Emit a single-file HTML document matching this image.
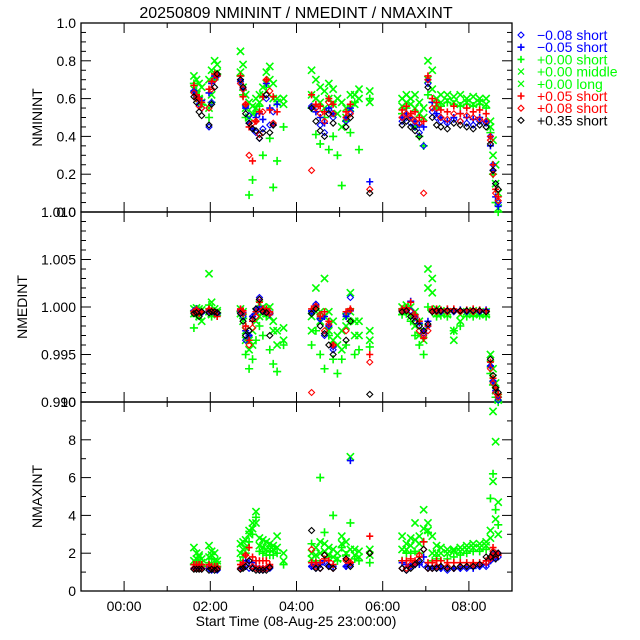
<!DOCTYPE html>
<html><head><meta charset="utf-8">
<style>
html,body{margin:0;padding:0;background:#fff;}
svg{display:block;font-family:"Liberation Sans",sans-serif;}
</style></head>
<body>
<svg id="chart" width="640" height="640" viewBox="0 0 640 640" xmlns="http://www.w3.org/2000/svg">
<rect width="640" height="640" fill="#fff"/>
<text x="296" y="18" font-size="16" text-anchor="middle">20250809 NMININT / NMEDINT / NMAXINT</text>
<g id="axes"></g>
<g id="marks"></g>
<g id="legend"></g>
<text x="296" y="626" font-size="14" text-anchor="middle">Start Time (08-Aug-25 23:00:00)</text>
</svg>
<script>
// time grid in hours since 00:00 (start 08-Aug-25 23:00 = -1h)
const times = [1.62,1.68,1.74,1.80, 1.97,2.03,2.10,2.16,
 2.70,2.76,2.82,2.90,2.98,3.06,3.14,3.22,3.30,3.38,3.46,3.55,3.70,
 4.35,4.45,4.55,4.65,4.75,4.85,4.95,5.05,5.15,5.25,5.35,5.45,5.70,
 6.45,6.55,6.65,6.75,6.85,6.95,7.05,7.15,
 7.25,7.35,7.50,7.65,7.80,7.95,8.10,8.25,8.40,
 8.50,8.56,8.62,8.68];
const xTickLabels = ["00:00","02:00","04:00","06:00","08:00"];
const xTickHours = [0,2,4,6,8];
const seriesNames = ["-0.08 short","-0.05 short","+0.00 short","+0.00 middle","+0.00 long","+0.05 short","+0.08 short","+0.35 short"];

// ---- NMININT ----
const minLong = [0.72,0.70,0.68,0.66, 0.70,0.75,0.80,0.78,
 0.85,0.78,0.62,0.58,0.56,0.60,0.62,0.66,0.74,0.77,0.68,0.60,0.60,
 0.75,0.70,0.66,0.64,0.68,0.65,0.60,0.58,0.55,0.62,0.62,0.65,0.64,
 0.60,0.62,0.60,0.62,0.58,0.55,0.80,0.75,
 0.60,0.62,0.62,0.61,0.62,0.60,0.61,0.60,0.60,
 0.48,0.38,0.25,0.10];
const minMid = [0.65,0.62,0.60,0.58, 0.55,0.62,0.72,0.74,
 0.74,0.66,0.55,0.50,0.52,0.55,0.58,0.62,0.68,0.70,0.60,0.58,0.57,
 0.62,0.60,0.58,0.55,0.60,0.57,0.52,0.45,0.50,0.55,0.57,0.60,0.58,
 0.56,0.58,0.57,0.55,0.52,0.50,0.70,0.65,
 0.57,0.58,0.59,0.58,0.57,0.58,0.57,0.58,0.57,
 0.45,0.30,0.15,0.02];
const minGreenPlus = [0.68,0.64,0.61,0.57, 0.50,0.58,0.70,0.73,
 0.72,0.62,0.50,0.09,0.17,0.52,0.56,0.30,0.66,0.39,0.13,0.27,0.45,
 0.55,0.41,0.36,0.50,0.33,0.40,0.30,0.14,0.48,0.42,0.58,0.33,0.60,
 0.52,0.55,0.50,0.45,0.40,0.35,0.62,0.58,
 0.55,0.56,0.58,0.57,0.56,0.57,0.56,0.57,0.55,
 0.42,0.20,0.05,0.00];
const minRedPlus = [0.67,0.62,0.60,0.58, 0.65,0.69,0.73,0.72,
 0.72,0.61,0.57,0.45,0.27,0.48,0.53,0.61,0.70,0.54,0.61,0.53,null,
 0.62,0.57,0.56,0.53,0.60,0.57,null,null,0.53,0.57,null,null,null,
 0.54,0.56,0.52,0.53,0.50,0.48,0.72,0.60,
 0.58,0.54,0.53,0.56,0.52,0.55,0.53,0.54,0.52,
 0.40,0.25,0.12,0.08];
const minBluePlus = [0.64,0.62,0.60,0.59, 0.63,0.68,0.72,0.72,
 0.70,0.65,0.55,0.47,0.44,0.50,0.52,0.49,0.68,0.55,0.46,0.57,null,
 0.55,0.53,0.50,0.47,0.55,0.52,null,null,0.50,0.55,null,null,0.16,
 0.50,0.52,0.50,0.48,0.46,0.45,0.70,0.58,
 0.52,0.50,0.48,0.50,0.52,0.50,0.49,0.50,0.48,
 0.35,0.22,0.08,0.03];
const minRedDiamond = [0.63,0.60,0.56,0.55, 0.55,0.65,0.70,0.73,
 0.68,0.65,0.57,0.30,0.47,0.48,0.41,0.53,0.70,0.64,0.47,null,null,
 0.22,0.55,0.52,0.48,0.58,0.52,null,null,0.50,0.52,null,null,0.12,
 0.50,0.52,0.50,0.48,0.47,0.10,0.70,0.55,
 0.55,0.50,0.49,0.52,0.48,0.51,0.50,0.49,0.48,
 0.38,0.20,0.10,0.06];
const minBlueDiamond = [0.64,0.61,0.57,0.55, 0.45,0.58,0.70,0.72,
 0.69,0.65,0.56,0.51,0.44,0.42,0.39,0.44,0.60,0.46,0.53,null,null,
 0.56,0.55,0.46,0.42,0.54,0.50,null,null,0.48,0.53,null,null,null,
 0.48,0.50,0.47,0.45,0.42,0.35,0.68,0.53,
 0.50,0.48,0.47,0.49,0.48,0.47,0.46,0.48,0.47,
 0.40,0.25,0.15,0.05];
const minBlackDiamond = [0.61,0.58,0.53,0.51, 0.46,0.57,0.66,0.73,
 0.70,0.66,0.52,0.47,0.44,0.43,0.39,0.42,0.62,0.42,0.46,null,null,
 0.55,0.48,0.43,0.40,0.52,0.47,null,null,0.45,0.50,null,null,0.10,
 0.46,0.48,0.45,0.43,0.40,null,0.66,0.50,
 0.46,0.45,0.44,0.47,0.46,0.45,0.44,0.46,0.45,
 0.36,0.22,0.15,0.12];

// ---- NMEDINT ----
const medLong = [0.9998,0.9999,0.9998,0.9997, 1.0035,1.0005,0.9998,0.9996,
 0.9998,0.9995,0.9975,0.9965,0.9975,0.9995,1.0003,1.0000,0.9998,1.0000,0.9985,0.9975,0.9978,
 0.9990,1.0020,0.9995,1.0030,0.9995,0.9985,0.9970,0.9975,0.9990,1.0015,0.9985,0.9985,0.9975,
 1.0000,1.0002,1.0000,0.9995,0.9985,0.9975,1.0040,1.0030,
 0.9998,0.9996,0.9995,0.9975,0.9992,0.9995,0.9996,0.9994,0.9995,
 0.9950,0.9935,0.9920,0.9905];
const medMid = [0.9993,0.9994,0.9990,0.9985, 0.9995,0.9992,0.9993,0.9994,
 0.9993,0.9985,0.9965,0.9955,0.9960,0.9985,0.9990,0.9995,0.9993,0.9990,0.9975,0.9960,0.9965,
 0.9975,0.9995,0.9985,0.9990,0.9975,0.9965,0.9960,0.9955,0.9980,0.9995,0.9970,0.9970,0.9965,
 0.9995,0.9996,0.9990,0.9980,0.9970,0.9965,1.0020,1.0015,
 0.9993,0.9993,0.9992,0.9965,0.9985,0.9992,0.9993,0.9992,0.9992,
 0.9940,0.9925,0.9912,0.9902];
const medGreenPlus = [0.9978,0.9990,0.9992,0.9995, 1.0002,0.9990,0.9995,0.9994,
 0.9995,0.9988,0.9950,0.9935,0.9945,0.9965,0.9980,0.9970,0.9990,0.9955,0.9940,0.9932,0.9960,
 0.9960,0.9975,0.9950,0.9935,0.9970,0.9945,0.9930,0.9945,0.9960,0.9985,0.9950,0.9955,0.9958,
 0.9992,0.9993,0.9985,0.9970,0.9960,0.9950,1.0000,0.9995,
 0.9990,0.9991,0.9990,0.9975,0.9980,0.9990,0.9990,0.9991,0.9990,
 0.9930,0.9918,0.9905,0.9900];
const medRedPlus = [0.9995,0.9997,0.9993,0.9995, 0.9998,0.9995,0.9994,0.9990,
 0.9998,0.9996,0.9980,0.9965,0.9985,0.9995,1.0005,0.9998,0.9998,0.9995,null,null,null,
 0.9998,1.0000,0.9990,0.9995,0.9985,0.9960,null,null,0.9995,0.9998,null,null,0.9950,
 0.9998,0.9999,1.0005,0.9992,0.9985,0.9967,0.9980,0.9998,
 0.9998,0.9997,0.9998,0.9998,0.9996,0.9997,0.9998,0.9997,0.9996,
 0.9942,0.9925,0.9915,0.9908];
const medBluePlus = [0.9996,0.9998,0.9995,0.9994, 0.9997,0.9996,0.9994,0.9993,
 0.9997,0.9994,0.9975,0.9970,0.9990,0.9998,1.0000,0.9998,0.9996,0.9992,null,null,null,
 0.9996,1.0002,0.9988,0.9990,0.9980,0.9958,null,null,0.9990,0.9996,null,null,null,
 0.9997,0.9998,1.0006,0.9990,0.9983,0.9975,0.9985,0.9997,
 0.9997,0.9996,0.9997,0.9996,0.9997,0.9996,0.9997,0.9996,0.9997,
 0.9938,0.9922,0.9912,0.9905];
const medRedDiamond = [0.9995,0.9997,0.9994,0.9995, 0.9997,0.9996,0.9995,0.9994,
 0.9996,0.9993,0.9978,0.9960,0.9978,0.9990,1.0008,0.9997,0.9995,0.9993,null,null,null,
 0.9910,1.0001,0.9992,0.9975,0.9982,0.9960,null,null,0.9975,0.9997,null,null,0.9942,
 0.9996,0.9997,0.9995,0.9990,0.9975,0.9970,0.9975,0.9996,
 0.9995,0.9996,0.9995,0.9996,0.9995,0.9996,0.9995,0.9996,0.9995,
 0.9935,0.9920,0.9910,0.9905];
const medBlueDiamond = [0.9996,0.9997,0.9995,0.9994, 0.9996,0.9995,0.9994,0.9993,
 0.9995,0.9990,0.9965,0.9970,0.9990,0.9995,1.0010,0.9996,0.9996,0.9994,null,null,null,
 0.9995,1.0003,0.9987,0.9970,0.9980,0.9955,null,null,0.9992,1.0010,null,null,null,
 0.9996,0.9997,0.9996,0.9989,0.9980,0.9972,0.9980,0.9996,
 0.9996,0.9995,0.9996,0.9995,0.9996,0.9995,0.9996,0.9995,0.9996,
 0.9938,0.9922,0.9910,0.9902];
const medBlackDiamond = [0.9993,0.9994,0.9990,0.9995, 0.9994,0.9995,0.9995,0.9994,
 0.9993,0.9985,0.9970,0.9975,0.9987,0.9998,1.0008,0.9995,0.9994,0.9970,null,null,null,
 0.9993,0.9998,0.9980,0.9972,0.9960,0.9950,null,null,0.9965,0.9985,null,null,0.9908,
 0.9995,0.9996,0.9990,0.9985,0.9980,0.9975,0.9982,0.9995,
 0.9996,0.9996,0.9996,0.9996,0.9996,0.9996,0.9996,0.9996,0.9995,
 0.9945,0.9928,0.9915,0.9910];

// ---- NMAXINT ----
const maxLong = [2.3,2.0,1.8,1.7, 2.4,2.1,2.0,1.6,
 2.5,2.6,2.7,3.2,3.6,4.2,2.8,2.7,2.6,2.5,2.4,2.9,2.0,
 2.0,2.3,2.6,2.5,2.3,2.2,2.0,2.9,2.6,7.1,2.2,2.1,2.2,
 2.9,2.5,2.8,3.6,2.9,4.3,3.6,2.9,
 2.4,2.3,2.2,2.2,2.3,2.4,2.5,2.5,2.6,
 3.2,9.5,7.9,4.7];
const maxMid = [1.6,1.7,1.9,1.5, 1.8,1.9,1.6,1.4,
 2.0,2.2,2.3,3.0,3.3,3.6,2.4,2.3,2.2,2.2,2.2,2.3,1.6,
 1.7,1.9,2.0,2.1,1.9,1.8,1.7,2.5,2.0,2.2,1.9,1.8,1.9,
 2.2,2.2,2.4,2.7,2.5,3.3,3.2,2.0,
 2.0,2.0,2.0,2.1,2.1,2.2,2.3,2.3,2.4,
 2.8,5.8,3.8,3.0];
const maxGreenPlus = [1.4,1.6,1.5,1.3, 1.5,1.7,1.4,1.3,
 1.6,1.8,2.0,2.6,3.0,3.9,2.1,2.0,1.9,1.9,1.9,2.0,1.4,
 2.5,1.6,6.0,3.1,1.8,4.0,1.6,2.3,1.9,3.6,1.7,1.6,1.5,
 1.6,2.0,2.0,2.1,2.0,2.6,3.1,1.6,
 1.7,1.6,1.7,1.8,1.9,2.0,2.1,2.1,2.2,
 4.9,6.2,4.3,3.5];
const maxRedPlus = [1.4,1.4,1.4,1.4, 1.4,1.3,1.3,1.3,
 1.4,1.5,1.9,2.3,1.8,1.6,1.6,1.6,1.6,1.4,null,null,null,
 1.5,1.5,1.5,1.7,1.6,1.4,null,null,1.7,1.5,null,null,2.9,
 1.6,1.6,1.7,1.6,1.8,2.6,1.5,1.5,
 1.6,1.6,1.5,1.5,1.5,1.5,1.5,1.5,1.6,
 1.8,2.3,2.0,1.9];
const maxBluePlus = [1.2,1.2,1.2,1.2, 1.2,1.2,1.2,1.2,
 1.2,1.3,1.6,1.5,1.5,1.3,1.2,1.2,1.2,1.3,null,null,null,
 1.3,1.4,1.4,1.6,1.3,1.3,null,null,1.3,6.9,null,null,null,
 1.5,1.4,1.3,1.4,1.4,1.8,1.3,1.3,
 1.3,1.2,1.2,1.2,1.2,1.3,1.2,1.3,1.4,
 1.6,1.8,1.7,2.0];
const maxRedDiamond = [1.2,1.2,1.2,1.2, 1.3,1.2,1.2,1.2,
 1.2,1.4,1.9,1.6,1.3,1.2,1.2,1.2,1.2,1.3,null,null,null,
 2.2,1.3,1.2,1.9,1.3,1.2,null,null,1.6,1.5,null,null,2.0,
 1.2,1.2,1.4,1.5,1.9,2.2,1.2,1.2,
 1.3,1.3,1.3,1.2,1.3,1.3,1.4,1.4,1.5,
 1.7,2.1,1.9,2.0];
const maxBlueDiamond = [1.2,1.2,1.2,1.2, 1.2,1.1,1.2,1.1,
 1.2,1.3,1.3,1.2,1.2,1.2,1.1,1.1,1.2,1.2,null,null,null,
 1.3,1.2,1.2,1.5,1.3,1.2,null,null,1.3,1.4,null,null,null,
 1.2,1.1,1.3,1.4,1.5,1.4,1.2,1.2,
 1.2,1.2,1.1,1.2,1.2,1.2,1.3,1.3,1.3,
 1.6,1.9,2.0,1.8];
const maxBlackDiamond = [1.15,1.15,1.15,1.15, 1.1,1.15,1.1,1.15,
 1.15,1.2,1.3,1.6,1.2,1.1,1.1,1.1,1.1,1.25,null,null,null,
 3.2,1.2,1.2,1.9,1.3,1.2,null,null,1.7,1.3,null,null,2.0,
 1.2,1.1,1.2,1.4,1.6,2.2,1.2,1.2,
 1.2,1.3,1.2,1.2,1.3,1.3,1.3,1.4,1.8,
 1.8,2.0,1.7,2.0];

const NS = "http://www.w3.org/2000/svg";
const PL = 81, PR = 512, XMIN = -1, XMAX = 9;
function xScale(h){ return PL + (h - XMIN) / (XMAX - XMIN) * (PR - PL); }
const panels = [
 {name:"nminint", title:"NMININT", top:23, bot:212, min:0, max:1, major:0.2, minorN:4, dec:1, titleX:42,
  series:[minLong,minMid,minGreenPlus,minBlueDiamond,minBluePlus,minRedPlus,minRedDiamond,minBlackDiamond]},
 {name:"nmedint", title:"NMEDINT", top:212, bot:402, min:0.99, max:1.01, major:0.005, minorN:5, dec:3, titleX:27,
  series:[medLong,medMid,medGreenPlus,medBlueDiamond,medBluePlus,medRedPlus,medRedDiamond,medBlackDiamond]},
 {name:"nmaxint", title:"NMAXINT", top:402, bot:591, min:0, max:10, major:2, minorN:2, dec:0, titleX:42,
  series:[maxLong,maxMid,maxGreenPlus,maxBlueDiamond,maxBluePlus,maxRedPlus,maxRedDiamond,maxBlackDiamond]}
];
const drawStyles = [
 {sym:"x",col:"#00ff00",n:"long",big:true},{sym:"x",col:"#00ff00",n:"middle",big:true},{sym:"+",col:"#00ff00",n:"green-short",big:true},
 {sym:"d",col:"#0000ff",n:"minus008"},{sym:"+",col:"#0000ff",n:"minus005"},{sym:"+",col:"#ff0000",n:"plus005"},
 {sym:"d",col:"#ff0000",n:"plus008"},{sym:"d",col:"#000000",n:"plus035"}];

function el(tag, attrs, parent){
  const e = document.createElementNS(NS, tag);
  for (const k in attrs) e.setAttribute(k, attrs[k]);
  parent.appendChild(e); return e;
}
function marker(sym, x, y, col, parent, big){
  let e;
  const s = big ? 3.6 : 3;
  if (sym === "x") e = el("path", {d:`M${x-s},${y-s}L${x+s},${y+s}M${x-s},${y+s}L${x+s},${y-s}`, stroke:col, "stroke-width":big?1.6:1.2, fill:"none"}, parent);
  else if (sym === "+") e = el("path", {d:`M${x-s-0.5},${y}L${x+s+0.5},${y}M${x},${y-s-0.5}L${x},${y+s+0.5}`, stroke:col, "stroke-width":1.6, fill:"none"}, parent);
  else e = el("path", {d:`M${x},${y-3}L${x+3},${y}L${x},${y+3}L${x-3},${y}Z`, stroke:col, "stroke-width":1.1, fill:"none"}, parent);
  return e;
}

const axes = document.getElementById("axes");
const marks = document.getElementById("marks");
panels.forEach((p, pi) => {
  const yScale = v => p.bot - (v - p.min) / (p.max - p.min) * (p.bot - p.top);
  const g = el("g", {}, axes);
  
  
  const frame = el("rect", {x:PL, y:p.top, width:PR-PL, height:p.bot-p.top, fill:"none", stroke:"#000", "stroke-width":1.3}, g);
  
  
  const nMaj = Math.round((p.max - p.min) / p.major);
  for (let i = 0; i <= nMaj * p.minorN; i++) {
    const v = p.min + i * p.major / p.minorN;
    const y = yScale(v);
    const isMaj = i % p.minorN === 0;
    const len = isMaj ? 10 : 5;
    el("line", {x1:PL, x2:PL+len, y1:y, y2:y, stroke:"#000", "stroke-width":1}, g);
    el("line", {x1:PR, x2:PR-len, y1:y, y2:y, stroke:"#000", "stroke-width":1}, g);
    if (isMaj) {
      const t = el("text", {x:76, y:y+5, "font-size":14, "text-anchor":"end"}, g);
      t.textContent = v.toFixed(p.dec);
      
      
    }
  }
  for (let h = XMIN; h <= XMAX; h++) {
    const x = xScale(h);
    const len = (h % 2 === 0) ? 10 : 5;
    el("line", {x1:x, x2:x, y1:p.bot, y2:p.bot-len, stroke:"#000", "stroke-width":1}, g);
    el("line", {x1:x, x2:x, y1:p.top, y2:p.top+len, stroke:"#000", "stroke-width":1}, g);
  }
  const cy = (p.top + p.bot) / 2;
  const yt = el("text", {x:p.titleX, y:cy, "font-size":14, "text-anchor":"middle", transform:`rotate(-90 ${p.titleX} ${cy})`}, g);
  yt.textContent = p.title;
  
  
  const mg = el("g", {}, marks);
  
  
  p.series.forEach((vals, si) => {
    const st = drawStyles[si];
    vals.forEach((v, i) => {
      if (v === null || v === undefined) return;
      if (v < p.min || v > p.max) return;
      const m = marker(st.sym, xScale(times[i]), yScale(v), st.col, mg, st.big);
      
      
    });
  });
});
xTickHours.forEach((h, i) => {
  const t = el("text", {x:xScale(h), y:611, "font-size":14, "text-anchor":"middle"}, axes);
  t.textContent = xTickLabels[i];
  
  
});
const legendSyms = ["d","+","+","x","x","+","d","d"];
const legendCols = ["#0000ff","#0000ff","#00ff00","#00ff00","#00ff00","#ff0000","#ff0000","#000000"];
const legend = document.getElementById("legend");
seriesNames.forEach((name, i) => {
  const y = 35 + i * 12.2;
  const row = el("g", {}, legend);
  
  
  marker(legendSyms[i], 521, y, legendCols[i], row, false);
  const t = el("text", {x:537, y:y+5, "font-size":14, fill:legendCols[i]}, row);
  t.textContent = name.replace("-", "\u2212");
});
</script>
</body></html>
